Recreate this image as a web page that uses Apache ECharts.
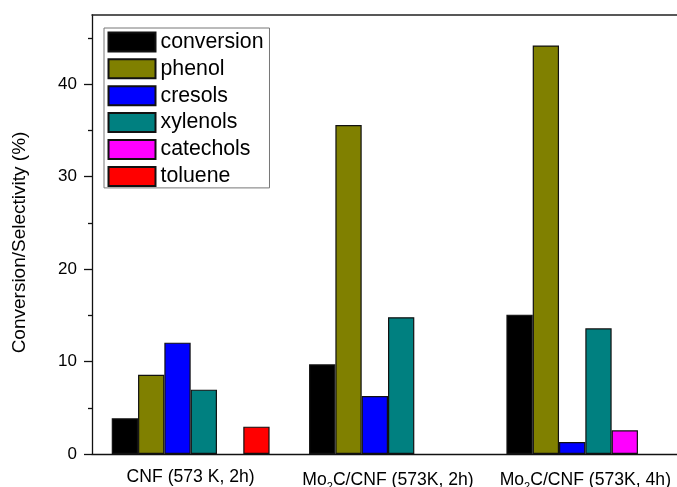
<!DOCTYPE html>
<html>
<head>
<meta charset="utf-8">
<script src="https://cdn.jsdelivr.net/npm/echarts@6/dist/echarts.min.js"></script>
<style>html,body{margin:0;padding:0;background:#fff}#c{width:677px;height:487px}</style>
</head>
<body>
<div id="c"></div>
<script>
var categories = ['CNF (573 K, 2h)', 'Mo\u2082C/CNF (573K, 2h)', 'Mo\u2082C/CNF (573K, 4h)'];
var seriesNames = ['conversion', 'phenol', 'cresols', 'xylenols', 'catechols', 'toluene'];
var conversion = [3.86, 9.7, 15.08];
var phenol = [8.58, 35.6, 44.2];
var cresols = [12.05, 6.28, 1.3];
var xylenols = [6.96, 14.8, 13.6];
var catechols = ['-', '-', 2.56];
var toluene = [2.96, '-', '-'];
var yTicks = [0, 10, 20, 30, 40];
var yMinorTicks = [5, 15, 25, 35, 45];
var colors = ['#000000', '#808000', '#0000ff', '#008080', '#ff00ff', '#ff0000'];

var values = [conversion, phenol, cresols, xylenols, catechols, toluene];
var FONT = 'Liberation Sans, Arial, sans-serif';
var chart = echarts.init(document.getElementById('c'), null, {renderer: 'canvas'});
var series = seriesNames.map(function (n, i) {
  return {
    name: n, type: 'bar', data: values[i], xAxisIndex: 0, yAxisIndex: 0,
    barGap: '0%', barCategoryGap: '20%',
    itemStyle: {color: colors[i], borderColor: '#111', borderWidth: 1.2},
    emphasis: {disabled: true}
  };
});
chart.setOption({
  animation: false,
  color: colors,
  grid: {left: 92, top: 15, width: 592, bottom: 33, show: false, outerBoundsMode: 'none'},
  legend: {
    orient: 'vertical', left: 104, top: 28,
    itemWidth: 47, itemHeight: 19, itemGap: 5.9,
    padding: [3.4, 6, 1, 3.5],
    borderColor: '#777', borderWidth: 1, backgroundColor: '#fff',
    icon: 'rect',
    textStyle: {fontFamily: FONT, fontSize: 21.3, color: '#000'},
    data: seriesNames
  },
  xAxis: [{
    type: 'category', data: categories, position: 'bottom',
    axisLine: {lineStyle: {color: '#111', width: 1.3}},
    axisTick: {alignWithLabel: true, length: 8, lineStyle: {color: '#111', width: 1.3}},
    axisLabel: {
      fontFamily: FONT, fontSize: 17.6, color: '#000', margin: 14, interval: 0,
      formatter: function (v) { return v.replace('\u2082', '{s|2}'); },
      rich: {s: {fontFamily: FONT, fontSize: 11, color: '#000', verticalAlign: 'bottom', lineHeight: 24}}
    },
    splitLine: {show: false}
  }, {
    type: 'category', data: categories, position: 'bottom', offset: 0,
    axisLine: {show: false},
    axisTick: {alignWithLabel: false, interval: 0, length: 5, lineStyle: {color: '#111', width: 1.3}},
    axisLabel: {show: false},
    splitLine: {show: false}
  }, {
    type: 'category', data: categories, position: 'top', offset: 0,
    axisLine: {show: true, lineStyle: {color: '#222', width: 1.5}},
    axisTick: {show: false},
    axisLabel: {show: false},
    splitLine: {show: false}
  }],
  yAxis: [{
    type: 'value', min: 0, max: 47.5, position: 'left',
    name: 'Conversion/Selectivity (%)', nameLocation: 'middle', nameGap: 63,
    nameTextStyle: {fontFamily: FONT, fontSize: 19, color: '#000', padding: [0, 16, 0, 0]},
    axisLine: {show: true, lineStyle: {color: '#111', width: 1.3}},
    axisTick: {show: true, length: 8, customValues: yTicks, lineStyle: {color: '#111', width: 1.3}},
    axisLabel: {fontFamily: FONT, fontSize: 17, color: '#000', margin: 15, customValues: yTicks},
    splitLine: {show: false}
  }, {
    type: 'value', min: 0, max: 47.5, position: 'left', offset: 0,
    axisLine: {show: false},
    axisTick: {show: true, length: 4, customValues: yMinorTicks, lineStyle: {color: '#111', width: 1.3}},
    axisLabel: {show: false},
    splitLine: {show: false}
  }],
  series: series
});
</script>
</body>
</html>
